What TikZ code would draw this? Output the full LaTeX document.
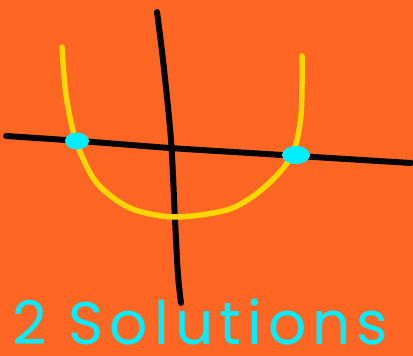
\documentclass[tikz,border=0pt]{standalone}
\usepackage{fontspec}
\setmainfont{Poppins}
\usepackage{tikz}
\usetikzlibrary{positioning}

\definecolor{bgorange}{RGB}{255,102,36}
\definecolor{curveyellow}{RGB}{255,214,0}
\definecolor{dotcyan}{RGB}{0,238,255}

\begin{document}
\begin{tikzpicture}[
    x=1pt, y=-1pt,
    axis/.style={
        draw=black,
        line width=6pt,
        line cap=round,
        line join=round
    },
    curve/.style={
        draw=curveyellow,
        line width=5.5pt,
        line cap=round,
        line join=round
    },
    label/.style={
        text=dotcyan,
        font=\addfontfeatures{LetterSpace=10}\fontsize{60}{60}\selectfont,
        inner sep=0pt,
        anchor=base west
    }
]

% background
\fill[bgorange] (0,0) rectangle (413,356);
\useasboundingbox (0,0) rectangle (413,356);

% axes
\draw[axis] plot[smooth] coordinates {(6,136) (80,141) (170,148) (250,153) (330,158) (411,163)};
\draw[axis] plot[smooth] coordinates {(157,12) (163,60) (171,140) (175,220) (178,275) (181,303)};

% parabola
\draw[curve] plot[smooth] coordinates {(62,47) (66,95) (76,141) (96,182) (130,208) (175,217) (230,209) (266,186) (292,155) (301,115) (302,56)};

% roots
\fill[dotcyan] (77,141) ellipse (12pt and 8.5pt);
\fill[dotcyan] (296,155) ellipse (14pt and 9pt);

% text
\node[label] (sol) at (12,344) {2 Solutions};

\end{tikzpicture}
\end{document}
